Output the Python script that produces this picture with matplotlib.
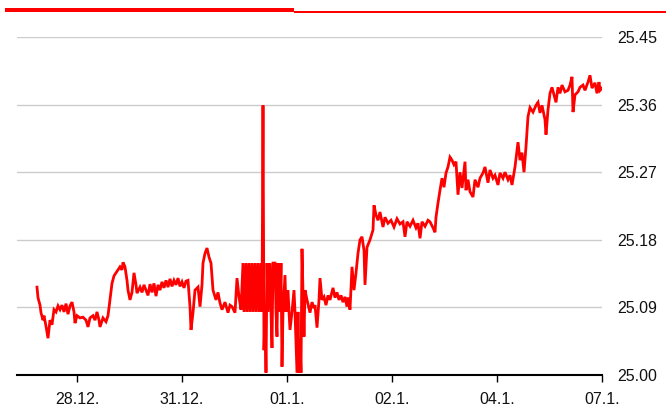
import matplotlib
matplotlib.use("Agg")
import matplotlib.pyplot as plt
from matplotlib.patches import Rectangle

# time index (1 trading day = 105 units), price values
t = [37,38,40,41,43,44,46,48,50,52,54,56,58,60,62,64,66,68,70,72,74,75,77,80,83,86,88,90,93,95,97,99,100,103,106,108,110,112,114,116,118,120,122,123,125,127,128,130,132,134,136,137,140,142,144,146,148,
     150,152,154,156,158,160,162,164,166,168,170,172,174,176,178,180,182,184,186,188,190,191,193,195,198,200,202,203,205,207,209,211,213,216,218,220,222,225,228,230,232,235,237,239,241,
     243,244,246,247,249,250,252,253,255,256,258,259,261,262,263,264,265,266,267,268,270,271,272,273,275,276,277,278,280,281,282,283,285,286,288,289,290,292,294,295,297,298,299,300,301,302,304,305,
     307,310,312,314,315,317,319,320,322,324,326,328,330,333,335,337,339,341,343,345,347,348,350,352,354,356,358,360,362,364,365,367,370,373,374,376,378,380,383,385,388,391,394,397,400,403,405,407,410,413,416,418,420,422,425,428,430,433,435,436,438,440,442,444,446,448,450,452,454,456,458,
     460,462,465,466,468,470,473,475,478,480,483,485,488,490,493,495,498,500,503,505,508,510,512,515,518,520,522,524,526,528,530,533,536,538,540,542,545,546,548,550,552,554,556,558,560,562,565,568,570,572,573,575,578,580,583,585,588,590,592,595,597,599,600,602]
price = [25.117,25.103,25.093,25.083,25.073,25.079,25.065,25.049,25.073,25.067,25.087,25.084,25.092,25.087,25.093,25.084,25.095,25.081,25.092,25.097,25.084,25.069,25.079,25.076,25.077,25.073,25.064,25.076,25.079,25.073,25.084,25.073,25.064,25.076,25.071,25.079,25.100,25.122,25.132,25.136,25.140,25.144,25.140,25.150,25.144,25.126,25.113,25.100,25.110,25.136,25.120,25.109,25.117,25.110,25.120,25.113,25.106,
         25.121,25.110,25.122,25.105,25.120,25.113,25.124,25.116,25.126,25.117,25.128,25.118,25.126,25.120,25.129,25.118,25.124,25.116,25.125,25.126,25.091,25.060,25.083,25.113,25.117,25.091,25.120,25.149,25.162,25.169,25.157,25.149,25.113,25.100,25.110,25.096,25.087,25.097,25.083,25.093,25.091,25.083,25.129,25.104,25.087,
         25.149,25.084,25.149,25.084,25.149,25.084,25.149,25.084,25.149,25.084,25.149,25.084,25.149,25.084,25.359,25.033,25.084,25.003,25.149,25.084,25.149,25.084,25.036,25.149,25.149,25.084,25.051,25.149,25.084,25.149,25.011,25.084,25.133,25.084,25.113,25.084,25.060,25.084,25.113,25.084,25.003,25.084,25.003,25.047,25.003,25.168,25.051,25.113,
         25.100,25.083,25.097,25.089,25.093,25.063,25.100,25.129,25.100,25.104,25.093,25.106,25.100,25.116,25.103,25.110,25.100,25.106,25.097,25.104,25.091,25.103,25.087,25.144,25.113,25.136,25.162,25.180,25.184,25.166,25.120,25.170,25.180,25.193,25.226,25.213,25.206,25.217,25.197,25.210,25.202,25.206,25.197,25.208,25.201,25.204,25.184,25.204,25.198,25.206,25.196,25.202,25.182,25.204,25.198,25.206,25.204,25.196,25.190,25.210,25.229,25.246,25.262,25.250,25.269,25.277,25.290,25.286,25.280,25.284,25.240,
         25.270,25.249,25.284,25.246,25.260,25.244,25.237,25.260,25.250,25.262,25.269,25.277,25.256,25.273,25.262,25.266,25.253,25.269,25.262,25.270,25.260,25.266,25.253,25.277,25.310,25.286,25.296,25.270,25.304,25.344,25.356,25.350,25.359,25.363,25.349,25.359,25.340,25.320,25.353,25.375,25.383,25.373,25.363,25.383,25.375,25.386,25.377,25.379,25.386,25.397,25.350,25.373,25.377,25.383,25.386,25.379,25.390,25.399,25.382,25.389,25.375,25.390,25.379,25.382]

tick_pos = [77, 182, 287, 392, 497, 602]
tick_labels = ["28.12.", "31.12.", "01.1.", "02.1.", "04.1.", "07.1."]
y_ticks = [25.00, 25.09, 25.18, 25.27, 25.36, 25.45]

plt.rcParams['font.family'] = ['Liberation Sans', 'DejaVu Sans']

W, H = 666, 419
fig = plt.figure(figsize=(W/100, H/100), dpi=100)
ax = fig.add_axes([17/W, 1-375/H, (602-17)/W, (375-37)/H])

ax.plot(t, price, color="#ff0000", lw=2.0, solid_joinstyle="miter")

ax.set_xlim(17, 602)
ax.set_ylim(25.0, 25.45)
ax.set_yticks(y_ticks)
ax.set_yticklabels([f"{v:.2f}" for v in y_ticks])
ax.yaxis.tick_right()
ax.tick_params(axis="y", length=0, pad=11, labelsize=11.5, colors="#111111")
ax.set_xticks(tick_pos)
ax.set_xticklabels(tick_labels)
ax.tick_params(axis="x", length=5, width=1, pad=7, labelsize=11.5, colors="black", labelcolor="#111111")
ax.grid(axis="y", color="#cccccc", lw=1)
ax.set_axisbelow(True)
for s in ["top", "left", "right"]:
    ax.spines[s].set_visible(False)
ax.spines["bottom"].set_linewidth(1.5)
ax.spines["bottom"].set_color("black")

# top bar decoration
fig.add_artist(Rectangle((5/W, 1-12.5/H), (294-5)/W, 4/H, transform=fig.transFigure, color="#ff0000", lw=0))
fig.add_artist(Rectangle((294/W, 1-13/H), (W-294)/W, 2/H, transform=fig.transFigure, color="#ff0000", lw=0))

fig.savefig("out.png", dpi=100)
